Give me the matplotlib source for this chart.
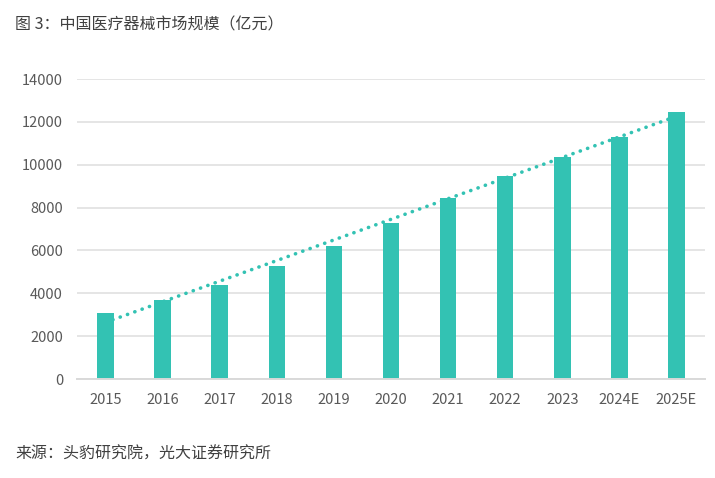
import numpy as np
from matplotlib import pyplot as plt

plt.rcParams['font.family'] = ['Noto Sans CJK SC', 'DejaVu Sans']

years = ['2015', '2016', '2017', '2018', '2019', '2020',
         '2021', '2022', '2023', '2024E', '2025E']
market = [3080, 3700, 4400, 5280, 6200, 7280,
          8450, 9470, 10360, 11280, 12470]

teal = '#33C2B3'
grey = '#595959'

fig = plt.figure(figsize=(7.15, 4.78), dpi=100)
ax = fig.add_axes([0.1077, 0.2071, 0.8783, 0.6276])

x = np.arange(len(years))
ax.bar(x, market, width=0.29, color=teal, zorder=3)

# linear trendline, as Excel draws it
k, b = np.polyfit(x, market, 1)
ax.plot(x, k * x + b, color=teal, lw=2.6, linestyle=(0, (0.05, 2.1)),
        dash_capstyle='round', zorder=4)

ax.set_xlim(-0.5, len(years) - 0.5)
ax.set_ylim(0, 14000)
ax.set_yticks(range(0, 14001, 2000))
ax.set_xticks(x)
ax.set_xticklabels(years)
ax.grid(axis='y', color='#E0E0E0', lw=1.2, zorder=0)
for s in ['top', 'right', 'left']:
    ax.spines[s].set_visible(False)
ax.spines['bottom'].set_color('#D9D9D9')
ax.spines['bottom'].set_linewidth(1.4)
ax.spines['bottom'].set_zorder(5)
ax.tick_params(length=0, colors=grey, labelsize=10.5)
ax.tick_params(axis='x', pad=10)
ax.tick_params(axis='y', pad=10)

fig.text(0.021, 0.947, '图 3：中国医疗器械市场规模（亿元）', fontsize=11.5,
         color='#404040', va='center')
fig.text(0.021, 0.049, '来源：头豹研究院，光大证券研究所', fontsize=11.5,
         color='#404040', va='center')

plt.savefig('out.png', dpi=100)
